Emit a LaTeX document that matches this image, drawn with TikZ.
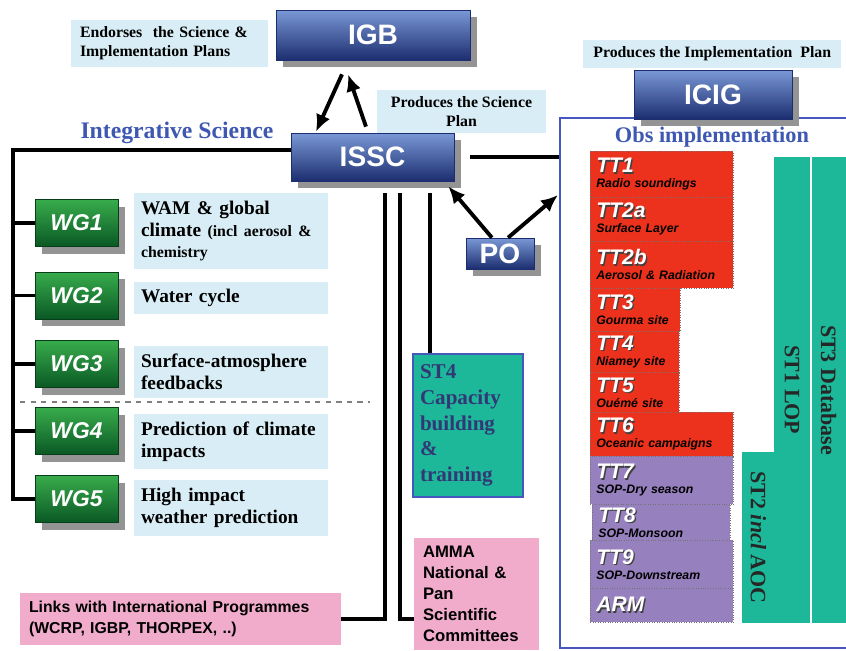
\documentclass[tikz,border=0pt]{standalone}
\usepackage{fontspec}
\setmainfont{Liberation Serif}
\setsansfont{Liberation Sans}
\usepackage{tikz}
\usetikzlibrary{shadows}
\usetikzlibrary{arrows.meta}
\usetikzlibrary{positioning}
\usetikzlibrary{calc}
\usepackage{xcolor}
\definecolor{navytop}{RGB}{122,152,214}
\definecolor{navybot}{RGB}{28,46,112}
\definecolor{greentop}{RGB}{56,172,76}
\definecolor{greenbot}{RGB}{10,88,36}
\definecolor{paleblue}{RGB}{216,237,245}
\definecolor{pinkbox}{RGB}{241,172,204}
\definecolor{tealST}{RGB}{28,184,153}
\definecolor{redTT}{RGB}{236,50,28}
\definecolor{purpleTT}{RGB}{150,128,190}
\definecolor{obsblue}{RGB}{70,88,190}
\definecolor{titleblue}{RGB}{62,88,178}
\definecolor{slateST}{RGB}{50,56,118}
\tikzset{
  >=latex,
  % grey block shadow under the title boxes
  shadowed/.style={drop shadow={shadow xshift=0.14cm, shadow yshift=-0.14cm, fill=black!42, opacity=1}}
}
\newcommand{\ttname}[1]{{\sffamily\bfseries\itshape\fontsize{12}{13}\selectfont\rlap{\hspace{0.7pt}\raisebox{-0.7pt}{\textcolor{black!75}{#1}}}\textcolor{white}{#1}}}
\newcommand{\ttsite}[1]{{\sffamily\bfseries\itshape\fontsize{7}{8}\selectfont #1}}

\begin{document}
\begin{tikzpicture}[x=0.02cm, y=-0.02cm]
    % Define styles
    \tikzstyle{board} = [shadowed, top color=navytop, bottom color=navybot, draw=navybot, text=white, font=\sffamily\bfseries\fontsize{16}{16}\selectfont, inner sep=0pt]
    \tikzstyle{wgbox} = [shadowed, top color=greentop, bottom color=greenbot, draw=greenbot!70!black, text=white, font=\sffamily\bfseries\itshape\fontsize{13}{13}\selectfont, minimum width=1.66cm, minimum height=0.94cm, inner sep=0pt]
    \tikzstyle{remit} = [fill=paleblue, font=\bfseries\fontsize{9}{11}\selectfont]
    \tikzstyle{topic} = [fill=paleblue, font=\bfseries\fontsize{11}{12.5}\selectfont, align=left, text width=3.6cm, inner xsep=0.14cm, inner ysep=0pt]
    \tikzstyle{forum} = [fill=pinkbox, font=\sffamily\bfseries\fontsize{9}{12}\selectfont, align=left, inner xsep=0.18cm, inner ysep=0pt]
    \tikzstyle{task} = [draw=black!55, densely dotted, anchor=north west, align=left, inner xsep=0.12cm, inner ysep=0pt, font=\fontsize{7}{8.5}\selectfont]
    \tikzstyle{redtask} = [task, fill=redTT]
    \tikzstyle{purpletask} = [task, fill=purpleTT]
    \tikzstyle{stcolumn} = [fill=tealST, rotate=-90, inner sep=0pt, text=black!85, font=\bfseries\fontsize{12.5}{12.5}\selectfont]
    \tikzstyle{heading} = [text=titleblue, font=\bfseries\fontsize{13.5}{13.5}\selectfont]
    \tikzstyle{wire} = [line width=1.9pt]
    \tikzstyle{trunk} = [line width=2.5pt]
    \tikzstyle{arr} = [line width=2.2pt, -{Latex[length=0.34cm, width=0.3cm]}]

    \useasboundingbox (0,0) rectangle (846,650);
    \clip (0,0) rectangle (846,650);

    % Place nodes
    \node[remit, text width=3.58cm, inner xsep=0.18cm, minimum height=0.94cm, align=left] (endorse) at (169.5,43.5) {Endorses\ \ the Science \&\\Implementation Plans};
    \node[board, minimum width=3.88cm, minimum height=1cm] (igb) at (373,35) {IGB};
    \node[remit, minimum width=3.38cm, minimum height=0.86cm, align=center] (prodsci) at (461.5,111.5) {Produces the Science\\Plan};
    \node[board, minimum width=3.26cm, minimum height=0.96cm] (issc) at (372.5,157) {ISSC};
    \node[heading] (intsci) at (177,133) {Integrative Science};

    \node[remit, anchor=west, minimum height=0.56cm, inner xsep=0.2cm] (prodimpl) at (583,54) {Produces the Implementation\ \ Plan};
    \node[draw=obsblue, line width=1.3pt, minimum width=5.84cm, minimum height=10.6cm] (obs) at (706,383) {};
    \node[board, minimum width=3.16cm, minimum height=0.98cm] (icig) at (713,94.5) {ICIG};
    \node[heading, font=\bfseries\fontsize{12.7}{12.7}\selectfont] (obstitle) at (712,137) {Obs implementation};
    \node[board, minimum width=1.36cm, minimum height=0.62cm] (po) at (500,253.5) {PO};

    % working groups
    \node[wgbox] (wg1) at (76.5,223) {WG1};
    \node[wgbox] (wg2) at (76.5,295.5) {WG2};
    \node[wgbox] (wg3) at (76.5,364) {WG3};
    \node[wgbox] (wg4) at (76.5,431) {WG4};
    \node[wgbox] (wg5) at (76.5,499) {WG5};
    \node[topic, minimum height=1.52cm] (d1) at (231,231) {WAM \& global\\climate {\fontsize{9}{12.5}\selectfont(incl aerosol \&}\\{\fontsize{9}{12.5}\selectfont chemistry}};
    \node[topic, minimum height=0.64cm] (d2) at (231,298) {Water cycle};
    \node[topic, minimum height=1.04cm] (d3) at (231,371.5) {Surface-atmosphere\\feedbacks};
    \node[topic, minimum height=1.1cm] (d4) at (231,441.5) {Prediction of climate\\impacts};
    \node[topic, minimum height=1.12cm] (d5) at (231,508) {High impact\\weather prediction};
    \draw[dashed, black!50, line width=0.6pt] (20,402) -- (370,402);

    \node[draw=obsblue, line width=1.2pt, fill=tealST, text=slateST, font=\bfseries\fontsize{12}{14.7}\selectfont, align=left, text width=1.92cm, inner xsep=0.14cm, minimum height=2.86cm] (st4) at (468,425.5) {ST4\\Capacity\\building\\\&\\training};
    \node[forum, text width=6.06cm, minimum height=1.04cm] (links) at (180.5,619) {Links with International Programmes\\(WCRP, IGBP, THORPEX, ..)};
    \node[forum, text width=2.14cm, minimum height=2.24cm, font=\sffamily\bfseries\fontsize{9.5}{12}\selectfont] (amma) at (476.5,594) {AMMA\\National \&\\Pan\\Scientific\\Committees};

    % task teams
    \node[redtask, text width=2.62cm, minimum height=0.92cm] (tt1) at (590,151) {\ttname{TT1}\\\ttsite{Radio soundings}};
    \node[redtask, text width=2.62cm, minimum height=0.88cm] (tt2a) at (590,197) {\ttname{TT2a}\\\ttsite{Surface Layer}};
    \node[redtask, text width=2.62cm, minimum height=0.94cm] (tt2b) at (590,241) {\ttname{TT2b}\\\ttsite{Aerosol \& Radiation}};
    \node[redtask, text width=1.56cm, minimum height=0.86cm] (tt3) at (590,288) {\ttname{TT3}\\\ttsite{Gourma site}};
    \node[redtask, text width=1.54cm, minimum height=0.82cm] (tt4) at (590,331) {\ttname{TT4}\\\ttsite{Niamey site}};
    \node[redtask, text width=1.54cm, minimum height=0.8cm] (tt5) at (590,372) {\ttname{TT5}\\\ttsite{Ouémé site}};
    \node[redtask, text width=2.62cm, minimum height=0.88cm] (tt6) at (590,412) {\ttname{TT6}\\\ttsite{Oceanic campaigns}};
    \node[purpletask, text width=2.62cm, minimum height=0.96cm] (tt7) at (590,456) {\ttname{TT7}\\\ttsite{SOP-Dry season}};
    \node[purpletask, text width=2.52cm, minimum height=0.72cm] (tt8) at (592,504) {\ttname{TT8}\\\ttsite{SOP-Monsoon}};
    \node[purpletask, text width=2.62cm, minimum height=0.96cm] (tt9) at (590,540) {\ttname{TT9}\\\ttsite{SOP-Downstream}};
    \node[purpletask, text width=2.62cm, minimum height=0.68cm] (arm) at (590,588) {\ttname{ARM}};

    % support teams
    \node[stcolumn, minimum width=9.32cm, minimum height=0.72cm] (st1) at (792,390) {ST1 LOP};
    \node[stcolumn, minimum width=3.42cm, minimum height=0.66cm] (st2) at (758.5,537.5) {ST2 \textit{incl} AOC};
    \node[stcolumn, minimum width=9.32cm, minimum height=0.69cm] (st3) at (828.75,390) {ST3 Database};

    % Draw edges
    \coordinate (bustop) at (13,150);
    \draw[wire] (issc.west |- bustop) -- (bustop) |- (wg5.west);
    \foreach \wg in {wg1,wg2,wg3,wg4}
      \draw[wire] (\wg.west) -- (\wg.west -| bustop);
    \draw[arr] ($(igb.south)+(-31,14)$) -- ($(issc.north)+(-56.5,-1)$);
    \draw[arr] ($(issc.north)+(-6.5,-6)$) -- ($(igb.south)+(-25,14)$);
    \coordinate (obsin) at (558,195);
    \draw[arr] (po.117) -- ($(issc.south east)+(-6,5)$);
    \draw[arr] (po.63) -- (obsin);
    \draw[wire] ($(issc.east)+(16,0)$) -- (issc.east -| obs.west);
    \coordinate (l1top) at (385,193);
    \coordinate (l2top) at (400,193);
    \coordinate (l3top) at (430,193);
    \draw[trunk] (l1top) |- (links.east);
    \draw[trunk] (l2top) |- (amma.west |- links.east);
    \draw[trunk] (l3top) -- (l3top |- st4.north);
\end{tikzpicture}
\end{document}
